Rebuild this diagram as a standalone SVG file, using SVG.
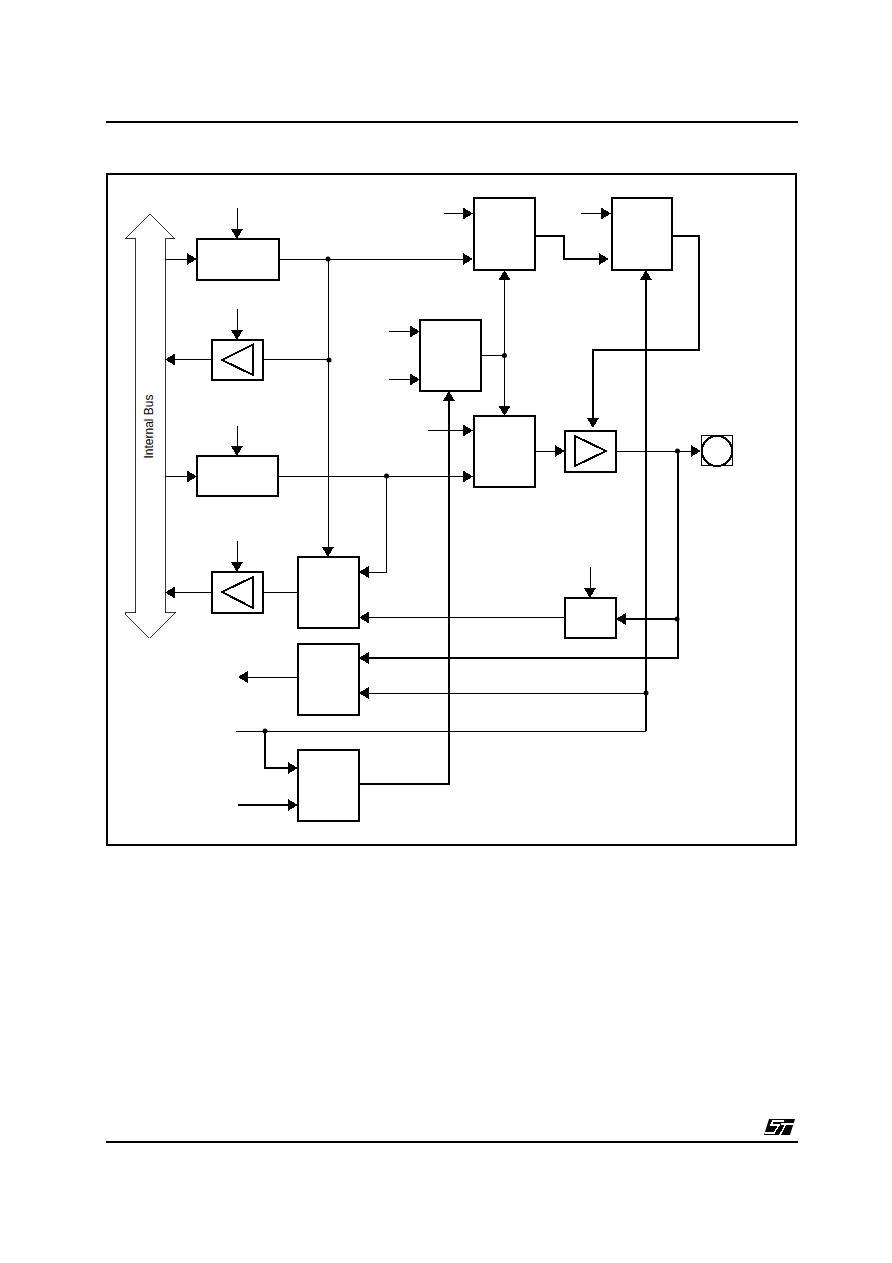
<svg xmlns="http://www.w3.org/2000/svg" width="892" height="1263" viewBox="0 0 892 1263" shape-rendering="crispEdges">
<style>
.b{fill:#fff;stroke:#000;stroke-width:2}
.t{fill:none;stroke:#000;stroke-width:1}
.m{fill:none;stroke:#000;stroke-width:1.5}
.k{fill:none;stroke:#000;stroke-width:2}
.d{fill:#000;shape-rendering:geometricPrecision}
.bus{fill:#fff;stroke:#000;stroke-width:.8}
text{font-family:"Liberation Sans",Arial,sans-serif;font-size:12px;fill:#000}
</style>
<defs>
<polygon id="ar" points="0,0 -10,-6 -10,6" fill="#000"/>
<polygon id="al" points="0,0 10,-6 10,6" fill="#000"/>
<polygon id="ad" points="0,0 -6,-10 6,-10" fill="#000"/>
<polygon id="au" points="0,0 -6,10 6,10" fill="#000"/>
</defs>
<rect width="892" height="1263" fill="#fff"/>
<g id="page">
<path class="k" d="M106 122H798"/>
<path class="k" d="M106 1142H798"/>
<rect class="k" x="107" y="174" width="689" height="671"/>
</g>
<g id="bus">
<polygon class="bus" points="150,214 175,238.500 165,238.500 165,612.500 176,612.500 150,638 125,612.500 135.500,612.500 135.500,238.500 125,238.500"/>
<text transform="translate(152.500,458.500) rotate(-90)">Internal Bus</text>
</g>
<g id="connectors">
<path class="t" d="M165 259.500H190M237.500 208V232M279 259.500H466M328.500 259V550"/>
<path class="t" d="M212 359.500H172M263 359.500H329M237.500 309V333"/>
<path class="t" d="M165 476.500H190M237.500 426V449M278 476.500H466M386.500 476.500V572.500H366"/>
<path class="t" d="M212 592.500H172M263 592.500H298M237.500 541V565"/>
<path class="t" d="M444 213.500H466M581 213.500H604M389 331.500H412M389 379.500H412M428 430.500H466"/>
<path class="t" d="M481 355.500H504.500M504.500 277V408"/>
<path class="m" d="M535 236H564V259H602"/>
<path class="k" d="M672 236H699V350H593V421"/>
<path class="t" d="M535 451.500H558M616 451.500H694"/>
<path class="k" d="M678 451V658H366"/>
<path class="k" d="M677 619H623"/>
<path class="t" d="M590.500 567V591M565 617.500H366"/>
<path class="k" d="M646 277V693"/>
<path class="m" d="M646 693V731"/>
<path class="t" d="M646 693.500H366M236 731.500H646"/>
<path class="m" d="M265 731V768H291"/>
<path class="k" d="M238 805H291"/>
<path class="t" d="M298 677.500H245"/>
<path class="k" d="M359 784H449V398"/>
<use href="#ar" x="197" y="259"/><use href="#ad" x="237" y="239"/><use href="#ar" x="473" y="259"/><use href="#ad" x="328" y="557"/>
<use href="#al" x="165" y="359.500"/><use href="#ad" x="237" y="340"/>
<use href="#ar" x="197" y="476.500"/><use href="#ad" x="237" y="456"/><use href="#ar" x="473" y="476.500"/><use href="#al" x="359" y="572"/>
<use href="#al" x="165" y="592.500"/><use href="#ad" x="237" y="572"/>
<use href="#ar" x="473" y="213.500"/><use href="#ar" x="611" y="213.500"/><use href="#ar" x="420" y="331.500"/><use href="#ar" x="420" y="379.500"/><use href="#ar" x="473" y="430.500"/>
<use href="#au" x="504.500" y="270"/><use href="#ad" x="504.500" y="416"/>
<use href="#ar" x="609" y="259"/><use href="#ad" x="593" y="428"/>
<use href="#ar" x="565" y="451"/><use href="#ar" x="701" y="451"/>
<use href="#al" x="359" y="658"/><use href="#al" x="616" y="619"/><use href="#ad" x="590" y="598"/><use href="#al" x="359" y="617.500"/>
<use href="#au" x="646" y="270"/><use href="#al" x="359" y="693"/><use href="#ar" x="298" y="768"/><use href="#ar" x="298" y="805"/>
<use href="#al" x="238" y="677"/><use href="#au" x="449" y="391"/>
<circle class="d" cx="328" cy="259" r="2.500"/><circle class="d" cx="329" cy="360" r="2.500"/><circle class="d" cx="386.500" cy="476" r="2.500"/><circle class="d" cx="504.500" cy="355.500" r="2.500"/><circle class="d" cx="677.500" cy="451" r="2.500"/><circle class="d" cx="677" cy="619" r="2.500"/><circle class="d" cx="646" cy="693" r="2.500"/><circle class="d" cx="265" cy="731" r="2.500"/>
</g>
<g id="block-1"><rect class="b" x="197" y="239" width="82" height="41"/></g>
<g id="buffer-1"><rect class="b" x="212" y="340" width="51" height="40"/><polygon class="b" points="222,360 253,344.500 253,375"/></g>
<g id="block-3"><rect class="b" x="197" y="456" width="81" height="40"/></g>
<g id="buffer-2"><rect class="b" x="212" y="572" width="51" height="41"/><polygon class="b" points="222,592 253,577 253,608"/></g>
<g id="block-a"><rect class="b" x="474" y="198" width="61" height="72"/></g>
<g id="block-b"><rect class="b" x="612" y="198" width="60" height="72"/></g>
<g id="block-c"><rect class="b" x="420" y="320" width="61" height="71"/></g>
<g id="block-d"><rect class="b" x="474" y="416" width="61" height="71"/></g>
<g id="buffer-3"><rect class="b" x="565" y="431" width="51" height="41"/><polygon class="b" points="575,436 606,451 575,466"/></g>
<g id="pad"><rect class="t" x="701.500" y="435.500" width="31" height="30"/><circle class="k" cx="717" cy="451" r="15" style="fill:#fff"/></g>
<g id="block-f"><rect class="b" x="298" y="557" width="61" height="71"/></g>
<g id="block-g"><rect class="b" x="298" y="644" width="61" height="71"/></g>
<g id="block-h"><rect class="b" x="298" y="750" width="61" height="71"/></g>
<g id="block-e"><rect class="b" x="565" y="598" width="51" height="40"/></g>
<g id="logo">
<polygon class="d" points="769,1119 795,1119 790,1135 764,1135"/>
<path d="M784 1121H773L771 1125H779L774 1133H765M781 1124H794M786 1124L780 1135" fill="none" stroke="#fff" stroke-width="1.500"/>
</g>
</svg>
